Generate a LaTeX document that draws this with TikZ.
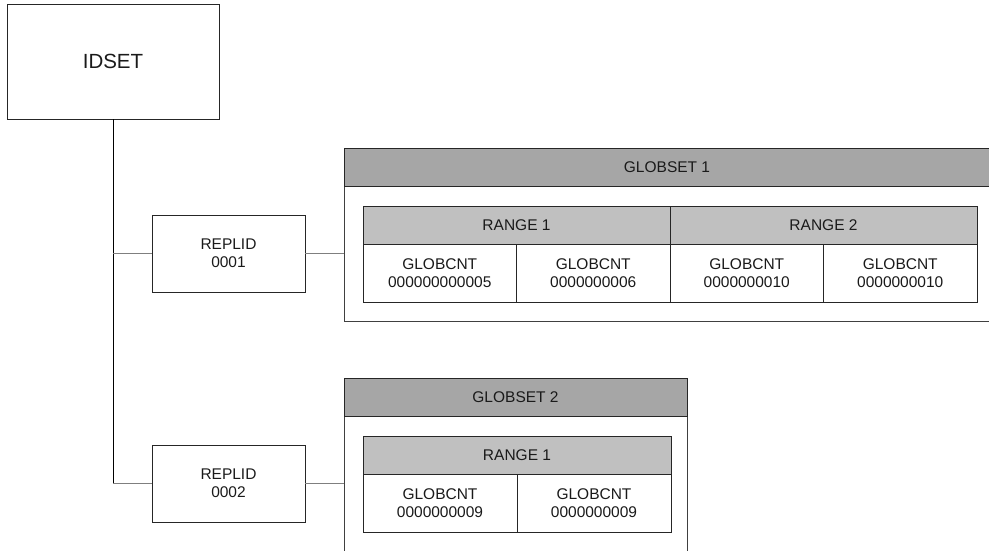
\documentclass[tikz,border=0pt]{standalone}
\usepackage{fontspec}
\setmainfont{Liberation Sans}
\definecolor{gshead}{HTML}{A6A6A6}
\definecolor{rghead}{HTML}{C0C0C0}
\definecolor{conn}{HTML}{7F7F7F}
\definecolor{txt}{HTML}{1A1A1A}
\begin{document}
\begin{tikzpicture}[x=1pt,y=-1pt,
  box/.style={draw=black!85, line width=0.9pt, rectangle, inner sep=0pt, outer sep=0pt, anchor=north west, text=txt, align=center, font=\fontsize{15.5}{18}\selectfont},
  bigbox/.style={box, font=\fontsize{20.5}{24}\selectfont},
  gsbox/.style={box, draw=black!75},
  gsheader/.style={box, fill=gshead},
  rgheader/.style={box, fill=rghead},
  cell/.style={box, fill=white},
  lowtext/.style={text depth=0pt},
  trunk/.style={draw=black, line width=0.9pt},
  link/.style={draw=conn, line width=0.9pt}]
\useasboundingbox (0,0) rectangle (989,550);

% IDSET and REPLIDs
\node[bigbox, minimum width=212pt, minimum height=115pt] (idset) at (7,4) {IDSET};
\node[box, minimum width=153pt, minimum height=77pt] (rep1) at (152,215) {REPLID\\0001};
\node[box, minimum width=153pt, minimum height=77pt] (rep2) at (152,445) {REPLID\\0002};

% GLOBSET 1
\node[gsbox, minimum width=648pt, minimum height=173pt] (gs1) at (344,148) {};
\node[gsheader, minimum width=648pt, minimum height=38pt] (gs1h) at (344,148) {\hspace*{-2pt}GLOBSET 1};
\node[rgheader, minimum width=307pt, minimum height=38pt] (r11) at (363,206) {RANGE 1};
\node[rgheader, minimum width=307pt, minimum height=38pt] (r12) at (670,206) {RANGE 2};
\node[cell, minimum width=153.5pt, minimum height=58pt] (c11) at (363,244) {GLOBCNT\\000000000005};
\node[cell, minimum width=153.5pt, minimum height=58pt] (c12) at (516.5,244) {GLOBCNT\\0000000006};
\node[cell, minimum width=153.5pt, minimum height=58pt] (c13) at (670,244) {GLOBCNT\\0000000010};
\node[cell, minimum width=153.5pt, minimum height=58pt] (c14) at (823.5,244) {GLOBCNT\\0000000010};

% GLOBSET 2
\node[gsbox, minimum width=343pt, minimum height=185pt] (gs2) at (344,378) {};
\node[gsheader, minimum width=343pt, minimum height=38pt] (gs2h) at (344,378) {GLOBSET 2};
\node[rgheader, minimum width=308pt, minimum height=38pt] (r21) at (363,436) {RANGE 1};
\node[cell, minimum width=154pt, minimum height=58pt] (c21) at (363,474) {GLOBCNT\\0000000009};
\node[cell, minimum width=154pt, minimum height=58pt] (c22) at (517,474) {GLOBCNT\\0000000009};

% connectors
\coordinate (j2) at (idset.south |- rep2.west);
\draw[trunk] (idset.south) -- (j2);
\draw[link] (idset.south |- rep1.west) -- (rep1.west);
\draw[link] (j2) -- (rep2.west);
\draw[link] (rep1.east) -- (rep1.east -| gs1.west);
\draw[link] (rep2.east) -- (rep2.east -| gs2.west);
\end{tikzpicture}
\end{document}
